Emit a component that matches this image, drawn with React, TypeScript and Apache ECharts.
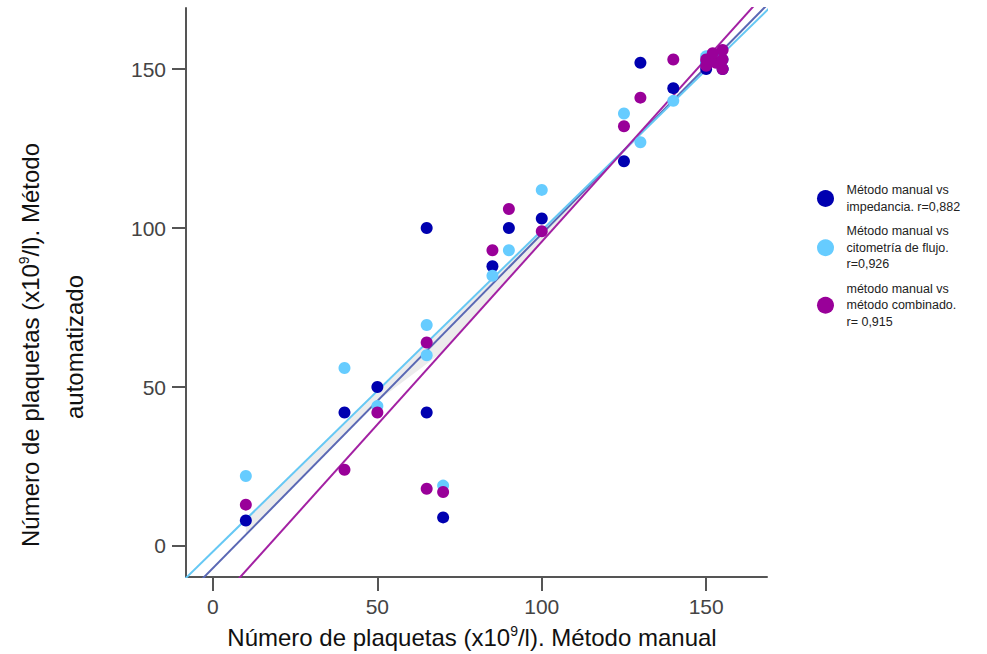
import React, { useEffect, useRef } from 'react';
import * as echarts from 'echarts';

// Axis ranges and tick labels
const xMin = -8.2;
const xMax = 168.5;
const yMin = -9.75;
const yMax = 169.2;
const xTicks = [0, 50, 100, 150];
const yTicks = [0, 50, 100, 150];

// Método manual vs impedancia
const impX = [10, 40, 50, 65, 65, 70, 85, 90, 100, 125, 130, 140, 150, 155, 150];
const impY = [8, 42, 50, 100, 42, 9, 88, 100, 103, 121, 152, 144, 150, 150, 152];

// Método manual vs citometría de flujo
const citX = [10, 40, 50, 65, 65, 70, 85, 90, 100, 125, 130, 140, 150, 150, 155];
const citY = [22, 56, 44, 69.5, 60, 19, 85, 93, 112, 136, 127, 140, 154, 152, 153];

// método manual vs método combinado
const comX = [10, 40, 50, 65, 65, 70, 85, 90, 100, 125, 130, 140, 150, 150, 153, 155, 155, 155, 152];
const comY = [13, 24, 42, 64, 18, 17, 93, 106, 99, 132, 141, 153, 151, 153, 152, 150, 153, 156, 155];

// Fit lines: [intercept, slope]
const fitImp = [-6.94, 1.051];
const fitCit = [-1.74, 1.01];
const fitCom = [-19.3, 1.15];

// Shaded band vertices
const bandX = [10, 127, 127, 70, 50, 10];
const bandY = [8.36, 126.5, 126.5, 61.2, 45.6, 3.57];

const legendNames = [
  'Método manual vs\nimpedancia. r=0,882',
  'Método manual vs\ncitometría de flujo.\nr=0,926',
  'método manual vs\nmétodo combinado.\nr= 0,915',
];

const colors = ['#0000b0', '#66ccff', '#990099'];
const lineColors = ['#5a68b4', '#66c8f4', '#a321a3'];

export default function App() {
  const ref = useRef<HTMLDivElement>(null);
  useEffect(() => {
    const chart = echarts.init(ref.current!, undefined, { renderer: 'svg' });
    const font = 'Liberation Sans, Arial, Helvetica, sans-serif';
    const pts = (xs: number[], ys: number[]) => xs.map((x, i) => [x, ys[i]]);
    const fitLine = (f: number[]) => [xMin - 20, xMax + 20].map((x) => [x, f[0] + f[1] * x]);
    const axisCommon = {
      type: 'value',
      axisLine: { show: true, onZero: false, lineStyle: { color: '#555', width: 2 } },
      axisTick: { show: true, length: 14, lineStyle: { color: '#555', width: 2 } },
      splitLine: { show: false },
    };
    const lineSeries = (name: string, f: number[], color: string) => ({
      name,
      type: 'line',
      data: fitLine(f),
      showSymbol: false,
      symbol: 'none',
      clip: true,
      silent: true,
      z: 2,
      lineStyle: { color, width: 2 },
    });
    const scatter = (name: string, xs: number[], ys: number[], color: string) => ({
      name,
      type: 'scatter',
      data: pts(xs, ys),
      symbol: 'circle',
      symbolSize: 12,
      z: 3,
      itemStyle: { color, opacity: 1 },
    });
    chart.setOption({
      animation: false,
      grid: { left: 186, right: 220, top: 8, bottom: 77, outerBoundsMode: 'none', containLabel: false },
      xAxis: {
        ...axisCommon,
        min: xMin,
        max: xMax,
        axisTick: { ...axisCommon.axisTick, customValues: xTicks },
        axisLabel: { customValues: xTicks, margin: 19, fontSize: 21, color: '#444', fontFamily: font },
      },
      yAxis: {
        ...axisCommon,
        min: yMin,
        max: yMax,
        axisTick: { ...axisCommon.axisTick, customValues: yTicks },
        axisLabel: { customValues: yTicks, margin: 20, fontSize: 21, color: '#444', fontFamily: font },
      },
      legend: {
        orient: 'vertical',
        left: 812,
        top: 177,
        itemWidth: 32,
        itemHeight: 17,
        itemGap: 8,
        icon: 'circle',
        data: legendNames,
        textStyle: { fontSize: 12.5, lineHeight: 16.5, color: '#222', fontFamily: font },
      },
      graphic: [
        {
          type: 'text',
          x: 472,
          y: 637,
          style: {
            text: 'Número de plaquetas (x10{s|9}/l). Método manual',
            fontSize: 24,
            lineHeight: 26,
            fontFamily: font,
            fill: '#111',
            align: 'center',
            verticalAlign: 'middle',
            rich: { s: { fontSize: 14, lineHeight: 14, verticalAlign: 'top', fontFamily: font, fill: '#111' } },
          },
        },
        {
          type: 'text',
          x: 30,
          y: 345,
          rotation: Math.PI / 2,
          style: {
            text: 'Número de plaquetas (x10{s|9}/l). Método',
            fontSize: 24,
            lineHeight: 26,
            fontFamily: font,
            fill: '#111',
            align: 'center',
            verticalAlign: 'middle',
            rich: { s: { fontSize: 14, lineHeight: 14, verticalAlign: 'top', fontFamily: font, fill: '#111' } },
          },
        },
        {
          type: 'text',
          x: 74,
          y: 347,
          rotation: Math.PI / 2,
          style: {
            text: 'automatizado',
            fontSize: 24,
            fontFamily: font,
            fill: '#111',
            align: 'center',
            verticalAlign: 'middle',
          },
        },
      ],
      series: [
        {
          name: 'band',
          type: 'custom',
          coordinateSystem: 'cartesian2d',
          data: [[0, 0]],
          silent: true,
          z: 1,
          renderItem: (_p: any, api: any) => ({
            type: 'polygon',
            shape: { points: bandX.map((x, i) => api.coord([x, bandY[i]])) },
            style: { fill: '#ececec' },
          }),
        },
        lineSeries('fitImp', fitImp, lineColors[0]),
        lineSeries('fitCit', fitCit, lineColors[1]),
        lineSeries('fitCom', fitCom, lineColors[2]),
        scatter(legendNames[0], impX, impY, colors[0]),
        scatter(legendNames[1], citX, citY, colors[1]),
        scatter(legendNames[2], comX, comY, colors[2]),
      ],
    });
    return () => chart.dispose();
  }, []);
  return <div ref={ref} style={{ position: 'absolute', left: 0, top: 0, width: 987, height: 654 }} />;
}
